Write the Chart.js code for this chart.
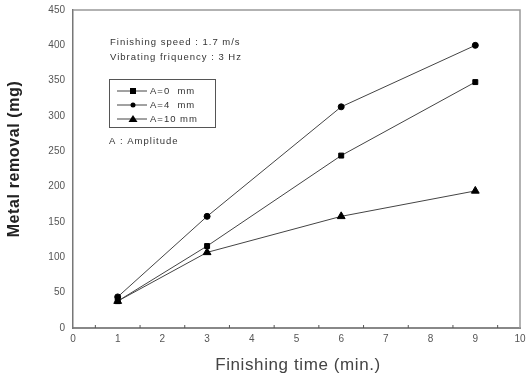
<!DOCTYPE html>
<html><head><meta charset="utf-8">
<script src="https://cdn.jsdelivr.net/npm/chart.js@4/dist/chart.umd.min.js"></script>
<style>html,body{margin:0;padding:0;background:#fff}#wrap{width:529px;height:376px}</style>
</head><body><div id="wrap"><canvas id="c" width="529" height="376"></canvas></div>
<script>
const times = [1, 3, 6, 9];
const seriesA0 = [38, 116, 244, 348];
const seriesA4 = [44, 158, 313, 400];
const seriesA10 = [38, 107, 158, 194];
const seriesNames = ['A=0  mm', 'A=4  mm', 'A=10 mm'];
const noteLines = ['Finishing speed : 1.7 m/s', 'Vibrating friquency : 3 Hz'];
const ampNote = 'A : Amplitude';
const xTitle = 'Finishing time (min.)';
const yTitle = 'Metal removal (mg)';

const lineCol = '#444';
const mk = (vals) => times.map((t, i) => ({x: t, y: vals[i]}));

const extras = {
  id: 'extras',
  afterDraw(chart) {
    const {ctx, chartArea: a, scales: {x, y}} = chart;
    ctx.save();
    // frame top/right
    ctx.strokeStyle = '#999'; ctx.lineWidth = 1.5;
    ctx.beginPath();
    ctx.moveTo(a.left, a.top); ctx.lineTo(a.right, a.top); ctx.lineTo(a.right, a.bottom);
    ctx.stroke();
    // minor x ticks (inside)
    ctx.strokeStyle = '#555'; ctx.lineWidth = 1;
    for (let v = 0.5; v < 10; v += 1) {
      const px = x.getPixelForValue(v);
      ctx.beginPath(); ctx.moveTo(px, a.bottom); ctx.lineTo(px, a.bottom - 3); ctx.stroke();
    }
    // axis titles
    ctx.textAlign = 'center'; ctx.textBaseline = 'middle';
    if (ctx.letterSpacing !== undefined) ctx.letterSpacing = '0.6px';
    ctx.fillStyle = '#444';
    ctx.font = '17px "Liberation Sans", Arial, sans-serif';
    ctx.fillText(xTitle, 298, 365);
    ctx.save();
    ctx.translate(15, 159); ctx.rotate(-Math.PI / 2);
    ctx.fillStyle = '#222';
    ctx.font = 'bold 16px "Liberation Sans", Arial, sans-serif';
    ctx.fillText(yTitle, 0, 0);
    ctx.restore();
    // notes
    ctx.textAlign = 'left';
    ctx.fillStyle = '#333';
    ctx.font = '9.5px "Liberation Sans", Arial, sans-serif';
    if (ctx.letterSpacing !== undefined) ctx.letterSpacing = '1px';
    ctx.fillText(noteLines[0], 110, 42);
    ctx.fillText(noteLines[1], 110, 57);
    ctx.fillText(ampNote, 109, 141);
    // legend box
    ctx.strokeStyle = '#555'; ctx.lineWidth = 1;
    ctx.strokeRect(109.5, 79.5, 106, 48);
    const ds = chart.data.datasets;
    const rows = [91, 105, 119];
    ds.forEach((d, i) => {
      const yy = rows[i];
      ctx.strokeStyle = lineCol; ctx.lineWidth = 1;
      ctx.beginPath(); ctx.moveTo(117, yy); ctx.lineTo(147, yy); ctx.stroke();
      ctx.fillStyle = '#000';
      const cx = 133;
      if (d.pointStyle === 'rect') { ctx.fillRect(cx - 3, yy - 3, 6, 6); }
      else if (d.pointStyle === 'circle') { ctx.beginPath(); ctx.arc(cx, yy, 2.5, 0, Math.PI * 2); ctx.fill(); }
      else { ctx.beginPath(); ctx.moveTo(cx, yy - 4); ctx.lineTo(cx + 4.5, yy + 3); ctx.lineTo(cx - 4.5, yy + 3); ctx.closePath(); ctx.fill(); }
      ctx.fillStyle = '#333';
      ctx.fillText(d.label, 150, yy);
    });
    ctx.restore();
  }
};

new Chart(document.getElementById('c'), {
  type: 'line',
  data: {
    datasets: [
      {label: seriesNames[0], data: mk(seriesA0), pointStyle: 'rect', pointRadius: 3.5},
      {label: seriesNames[1], data: mk(seriesA4), pointStyle: 'circle', pointRadius: 3},
      {label: seriesNames[2], data: mk(seriesA10), pointStyle: 'triangle', pointRadius: 4.5}
    ].map(d => Object.assign(d, {borderColor: lineCol, borderWidth: 1, backgroundColor: '#000', pointBackgroundColor: '#000', pointBorderColor: '#000', tension: 0}))
  },
  options: {
    responsive: false, animation: false,
    layout: {padding: {top: 10, right: 9, left: 0, bottom: 0}},
    plugins: {legend: {display: false}, tooltip: {enabled: false}},
    scales: {
      x: {
        type: 'linear', min: 0, max: 10,
        grid: {display: false, drawTicks: true, tickLength: 4, color: '#555'},
        border: {display: true, color: '#888', width: 2},
        ticks: {stepSize: 1, color: '#555', font: {size: 10, family: '"Liberation Sans", Arial'}, padding: 1, maxRotation: 0},
        title: {display: false, text: xTitle},
        afterFit(s) { s.height = 48; }
      },
      y: {
        min: 0, max: 450,
        grid: {display: false, drawTicks: true, tickLength: 5, color: '#555'},
        border: {display: true, color: '#777', width: 1.5},
        ticks: {stepSize: 25, autoSkip: false, color: '#555', font: {size: 10, family: '"Liberation Sans", Arial'}, padding: 3,
          callback: v => (v % 50 === 0 ? v : '')},
        title: {display: false, text: yTitle},
        afterFit(s) { s.width = 73; }
      }
    }
  },
  plugins: [extras]
});
</script></body></html>
